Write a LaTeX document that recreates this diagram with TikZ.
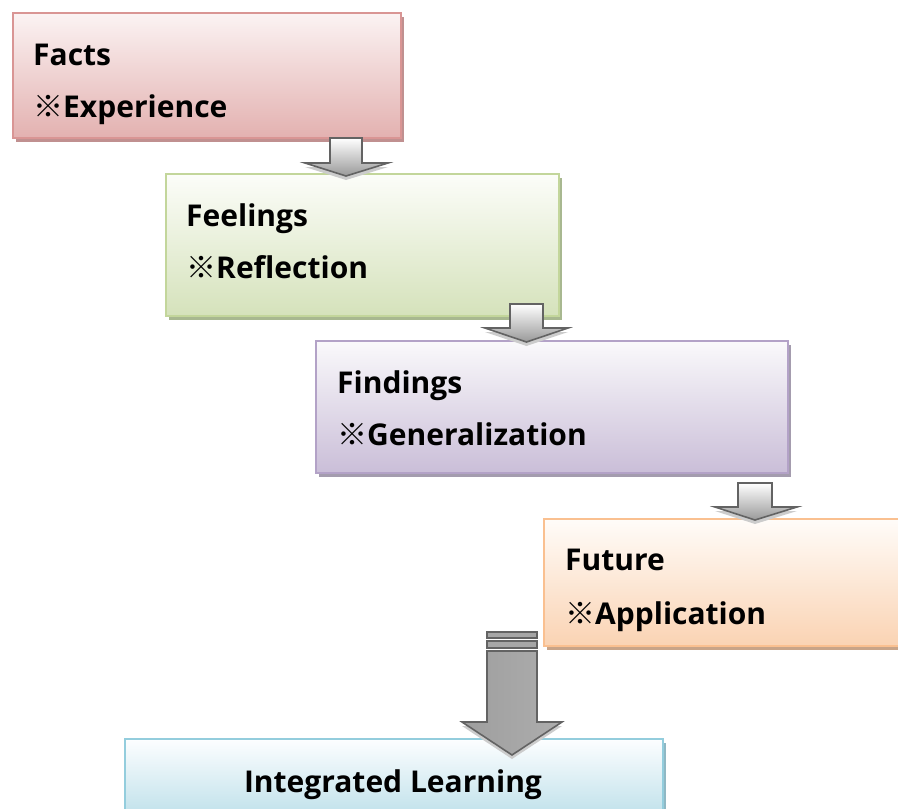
\documentclass[tikz,border=0pt]{standalone}
\usepackage{fontspec}
\setmainfont{Open Sans}
\newfontfamily\cjk{Noto Sans CJK TC}
\usetikzlibrary{shadows}
\definecolor{bdA}{HTML}{D99594}\definecolor{shA}{HTML}{C09090}\definecolor{tpA}{HTML}{FBF3F3}\definecolor{btA}{HTML}{E3B1B0}
\definecolor{bdB}{HTML}{C3D69B}\definecolor{shB}{HTML}{A8B890}\definecolor{tpB}{HTML}{FCFDF9}\definecolor{btB}{HTML}{D5E2BB}
\definecolor{bdC}{HTML}{B3A2C7}\definecolor{shC}{HTML}{A49CAE}\definecolor{tpC}{HTML}{FAF9FB}\definecolor{btC}{HTML}{CABED8}
\definecolor{bdD}{HTML}{FAC090}\definecolor{shD}{HTML}{C8A488}\definecolor{tpD}{HTML}{FFFCF9}\definecolor{btD}{HTML}{FAD3B3}
\definecolor{bdE}{HTML}{93CDDD}\definecolor{shE}{HTML}{8FB8C4}\definecolor{tpE}{HTML}{FDFEFF}\definecolor{btE}{HTML}{B5DCE7}
\definecolor{arrline}{HTML}{636363}
\newcommand{\blockarr}[7]{%
  \draw[arr] (#1,#3) -- (#2,#3) -- (#2,#4) -- (#6,#4) -- ({(#1+#2)/2},#7) -- (#5,#4) -- (#1,#4) -- cycle;}
\begin{document}
\begin{tikzpicture}[x=1pt,y=-1pt,
  boxbase/.style={rectangle, line width=1.6pt, inner sep=0pt, anchor=north west},
  boxA/.style={boxbase, draw=bdA, top color=tpA, bottom color=btA, drop shadow={shadow xshift=3pt,shadow yshift=-4pt,fill=shA,opacity=1}},
  boxB/.style={boxbase, draw=bdB, top color=tpB, bottom color=btB, drop shadow={shadow xshift=3pt,shadow yshift=-4pt,fill=shB,opacity=1}},
  boxC/.style={boxbase, draw=bdC, top color=tpC, bottom color=btC, drop shadow={shadow xshift=3pt,shadow yshift=-4pt,fill=shC,opacity=1}},
  boxD/.style={boxbase, draw=bdD, top color=tpD, bottom color=btD, drop shadow={shadow xshift=3pt,shadow yshift=-4pt,fill=shD,opacity=1}},
  boxE/.style={boxbase, draw=bdE, top color=tpE, bottom color=btE, drop shadow={shadow xshift=3pt,shadow yshift=-4pt,fill=shE,opacity=1}},
  txt/.style={inner sep=0pt, anchor=base west, font=\fontsize{30}{36}\selectfont\bfseries},
  arr/.style={draw=arrline, line width=1.6pt, line join=miter, top color=white, bottom color=black!40,
    drop shadow={shadow xshift=0pt,shadow yshift=-4pt,fill=black!20,opacity=1}},
  bigarr/.style={draw=arrline, line width=1.6pt, line join=miter, left color=black!38, middle color=black!12, right color=black!32,
    drop shadow={shadow xshift=0pt,shadow yshift=-4pt,fill=black!20,opacity=1}},
  stripe/.style={draw=arrline, line width=1.2pt, fill=black!35}
]
\clip (0,0) rectangle (898,809);
\fill[white] (0,0) rectangle (898,809);

% boxes
\node[boxA, minimum width=388pt, minimum height=125pt] (facts) at (12,12) {};
\node[boxB, minimum width=393pt, minimum height=142pt] (feel) at (165,173) {};
\node[boxC, minimum width=472pt, minimum height=132pt] (find) at (315,340) {};
\node[boxD, minimum width=380pt, minimum height=127pt] (fut) at (543,518) {};
\node[boxE, minimum width=538pt, minimum height=90pt] (integ) at (124,738) {};

% texts
\node[txt] (t1a) at (33,65) {Facts};
\node[txt] (t1b) at (33,117) {{\cjk ※}Experience};
\node[txt] (t2a) at (186,226) {Feelings};
\node[txt] (t2b) at (186,278) {{\cjk ※}Reflection};
\node[txt] (t3a) at (337,393) {Findings};
\node[txt] (t3b) at (337,445) {{\cjk ※}Generalization};
\node[txt] (t4a) at (565,570) {Future};
\node[txt] (t4b) at (565,624) {{\cjk ※}Application};
\node[txt, anchor=base] (t5) at (393,792) {Integrated Learning};

% small block arrows
\blockarr{330}{362}{138}{163}{305}{388}{176}
\blockarr{510}{543}{304}{328}{485}{568}{342}
\blockarr{738}{772}{483}{507}{715}{797}{520}

% big arrow
\draw[stripe] (487,632) rectangle (537,638);
\draw[stripe] (487,641) rectangle (537,648);
\draw[bigarr] (487,651) -- (537,651) -- (537,722) -- (562,722) -- (512,755) -- (462,722) -- (487,722) -- cycle;
\end{tikzpicture}
\end{document}
